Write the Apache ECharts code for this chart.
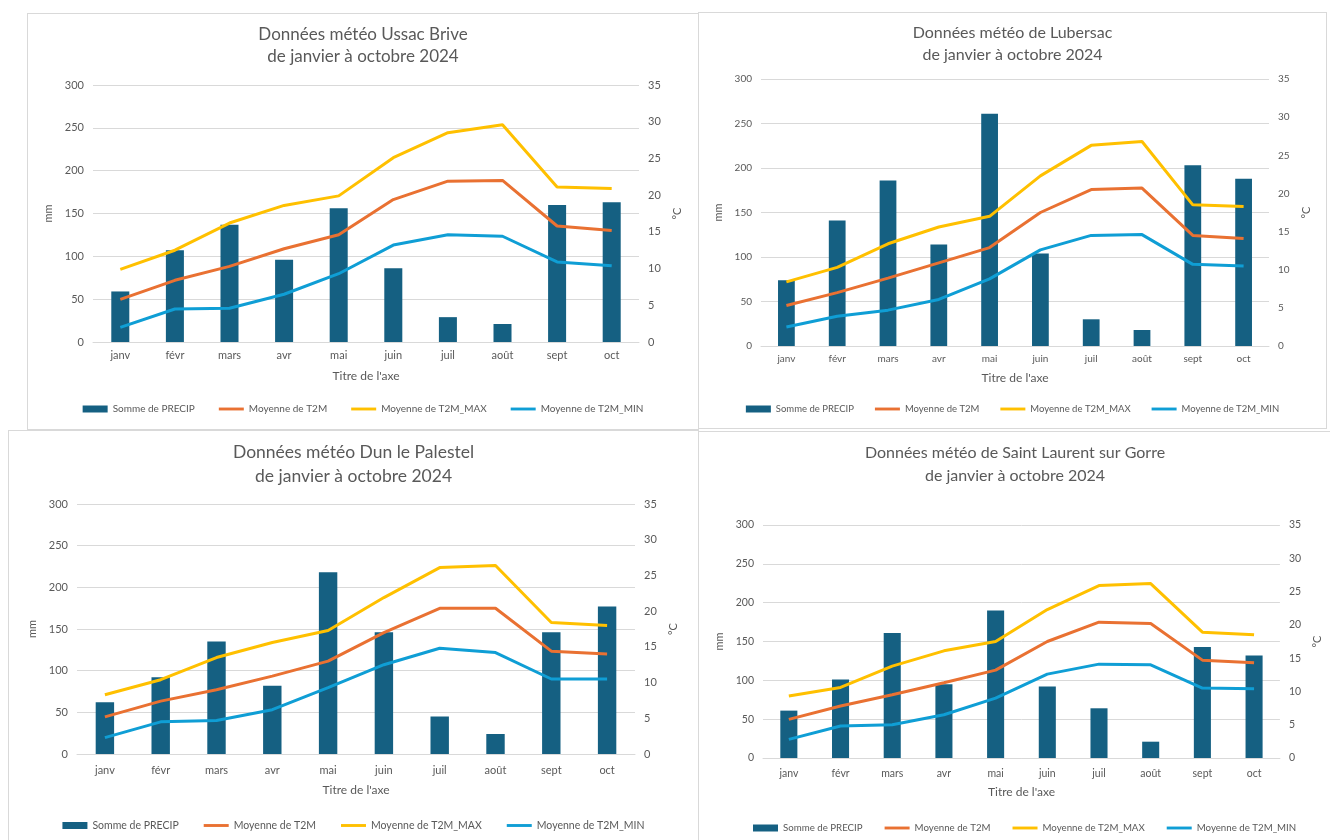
<!DOCTYPE html>
<html>
<head>
<meta charset="utf-8">
<script src="https://cdn.jsdelivr.net/npm/echarts@6/dist/echarts.min.js"></script>
<style>
  body { margin: 0; background: #fff; width: 1330px; height: 840px; overflow: hidden; position: relative; }
  .panel { position: absolute; border: 1px solid #d9d9d9; box-sizing: border-box; background: #fff; }
</style>
</head>
<body>
<div id="p1" class="panel" style="left:27px;top:13px;width:672px;height:417px"></div>
<div id="p2" class="panel" style="left:698px;top:12px;width:629px;height:417px"></div>
<div id="p3" class="panel" style="left:8px;top:430px;width:691px;height:420px"></div>
<div id="p4" class="panel" style="left:698px;top:431px;width:634px;height:420px"></div>
<script>
const months = ['janv', 'févr', 'mars', 'avr', 'mai', 'juin', 'juil', 'août', 'sept', 'oct']
const mmTicks = [0, 300, 50]
const degTicks = [0, 35, 5]

// Ussac Brive
const ussacPrecip = [59, 107, 137, 96, 156, 86, 29, 21, 160, 163]
const ussacT2m = [5.8, 8.4, 10.3, 12.7, 14.6, 19.4, 21.9, 22.0, 15.8, 15.2]
const ussacT2mMax = [9.9, 12.5, 16.2, 18.6, 19.9, 25.1, 28.5, 29.6, 21.1, 20.9]
const ussacT2mMin = [2.0, 4.5, 4.6, 6.5, 9.3, 13.2, 14.6, 14.4, 10.9, 10.4]

// Lubersac
const luberPrecip = [74, 141, 186, 114, 261, 104, 30, 18, 203, 188]
const luberT2m = [5.3, 7.0, 8.9, 10.9, 12.9, 17.5, 20.5, 20.7, 14.5, 14.1]
const luberT2mMax = [8.4, 10.3, 13.4, 15.6, 17.0, 22.3, 26.3, 26.8, 18.5, 18.3]
const luberT2mMin = [2.5, 3.9, 4.7, 6.1, 8.8, 12.6, 14.5, 14.6, 10.7, 10.5]

// Dun le Palestel
const dunPrecip = [62, 92, 135, 82, 218, 146, 45, 24, 146, 177]
const dunT2m = [5.2, 7.4, 9.0, 10.9, 13.0, 17.0, 20.4, 20.4, 14.4, 14.0]
const dunT2mMax = [8.3, 10.4, 13.5, 15.6, 17.3, 21.9, 26.1, 26.4, 18.4, 18.0]
const dunT2mMin = [2.3, 4.5, 4.7, 6.2, 9.3, 12.5, 14.8, 14.2, 10.5, 10.5]

// Saint Laurent sur Gorre
const slPrecip = [61, 101, 161, 95, 190, 92, 64, 21, 143, 132]
const slT2m = [5.8, 7.8, 9.5, 11.3, 13.2, 17.5, 20.4, 20.2, 14.7, 14.3]
const slT2mMax = [9.3, 10.6, 13.8, 16.1, 17.5, 22.3, 25.9, 26.2, 18.9, 18.5]
const slT2mMin = [2.8, 4.8, 5.0, 6.5, 9.0, 12.6, 14.1, 14.0, 10.5, 10.4]

const gray = '#595959'
const font = 'Lato'
// thin bar used as legend icon for the lines (keeps aspect inside 25x7 box)
const lineIcon = 'path://M0,0H26V3H0Z'

const makeChart = (id, cfg) => {
  const chart = echarts.init(document.getElementById(id))
  const lbl = { color: gray, fontSize: cfg.fs, fontFamily: font }
  const line = (name, data, color) => ({
    name, type: 'line', yAxisIndex: 1, data, symbol: 'none',
    lineStyle: { width: 3, color }, itemStyle: { color }
  })
  chart.setOption({
    animation: false,
    title: {
      text: cfg.title, left: 'center', top: cfg.titleTop, padding: cfg.titlePad || 0,
      textStyle: { color: gray, fontSize: cfg.titleFs, fontWeight: 'normal', fontFamily: font, lineHeight: cfg.titleLh }
    },
    legend: {
      left: cfg.legendLeft || 'center', top: cfg.legendTop, padding: 0,
      itemWidth: 25, itemHeight: 7, itemGap: cfg.legendGap,
      textStyle: { color: gray, fontSize: cfg.legendFs, fontFamily: font },
      data: [
        { name: 'Somme de PRECIP', icon: 'rect' },
        { name: 'Moyenne de T2M', icon: lineIcon },
        { name: 'Moyenne de T2M_MAX', icon: lineIcon },
        { name: 'Moyenne de T2M_MIN', icon: lineIcon }
      ]
    },
    grid: { left: cfg.grid[0], top: cfg.grid[1], width: cfg.grid[2], height: cfg.grid[3] },
    xAxis: {
      type: 'category', data: months,
      name: "Titre de l'axe", nameLocation: 'middle', nameGap: cfg.xNameGap,
      nameTextStyle: { color: gray, fontSize: 12, fontFamily: font },
      axisLine: { lineStyle: { color: '#d9d9d9' } }, axisTick: { show: false },
      axisLabel: { ...lbl, margin: cfg.xMargin }
    },
    yAxis: [
      {
        type: 'value', min: mmTicks[0], max: mmTicks[1], interval: mmTicks[2],
        name: 'mm', nameLocation: 'middle', nameGap: cfg.yNameGap[0],
        nameTextStyle: { color: gray, fontSize: 11, fontFamily: font },
        axisLabel: { ...lbl, margin: 9 },
        splitLine: { lineStyle: { color: '#d9d9d9' } }
      },
      {
        type: 'value', min: degTicks[0], max: degTicks[1], interval: degTicks[2],
        name: '°C', nameLocation: 'middle', nameRotate: 90, nameGap: cfg.yNameGap[1],
        nameTextStyle: { color: gray, fontSize: 11, fontFamily: font },
        axisLabel: { ...lbl, margin: 9 },
        splitLine: { show: false }
      }
    ],
    series: [
      { name: 'Somme de PRECIP', type: 'bar', data: cfg.precip, barWidth: '33%', itemStyle: { color: '#156082' } },
      line('Moyenne de T2M', cfg.t2m, '#E97132'),
      line('Moyenne de T2M_MAX', cfg.t2mMax, '#FFC000'),
      line('Moyenne de T2M_MIN', cfg.t2mMin, '#0F9ED5')
    ]
  })
}

makeChart('p1', {
  title: 'Données météo Ussac Brive\nde janvier à octobre 2024', titleTop: 10, titleLh: 22, titleFs: 17,
  grid: [65, 71, 546, 257], fs: 11, xMargin: 8, xNameGap: 28, yNameGap: [33, 28],
  legendTop: 390, legendGap: 24, legendFs: 10,
  precip: ussacPrecip, t2m: ussacT2m, t2mMax: ussacT2mMax, t2mMin: ussacT2mMin
})
makeChart('p2', {
  title: 'Données météo de Lubersac\nde janvier à octobre 2024', titleTop: 9, titleLh: 22, titleFs: 16,
  grid: [62, 66, 508, 267], fs: 10, xMargin: 8, xNameGap: 26, yNameGap: [32, 28],
  legendTop: 391, legendGap: 21, legendFs: 9.5,
  precip: luberPrecip, t2m: luberT2m, t2mMax: luberT2mMax, t2mMin: luberT2mMin
})
makeChart('p3', {
  title: 'Données météo Dun le Palestel\nde janvier à octobre 2024', titleTop: 9, titleLh: 24, titleFs: 17.5,
  grid: [68, 73, 558, 250], fs: 11, xMargin: 11, xNameGap: 30, yNameGap: [36, 30],
  legendTop: 389, legendGap: 25, legendFs: 10.5,
  precip: dunPrecip, t2m: dunT2m, t2mMax: dunT2mMax, t2mMin: dunT2mMin
})
makeChart('p4', {
  title: 'Données météo de Saint Laurent sur Gorre\nde janvier à octobre 2024', titleTop: 9, titleLh: 23, titleFs: 16,
  titlePad: [0, 0, 0, 30],
  grid: [64, 93, 523, 233], fs: 10.5, xMargin: 10, xNameGap: 28, yNameGap: [34, 29],
  legendTop: 391, legendGap: 22, legendFs: 9.7, legendLeft: 54,
  precip: slPrecip, t2m: slT2m, t2mMax: slT2mMax, t2mMin: slT2mMin
})
</script>
</body>
</html>
